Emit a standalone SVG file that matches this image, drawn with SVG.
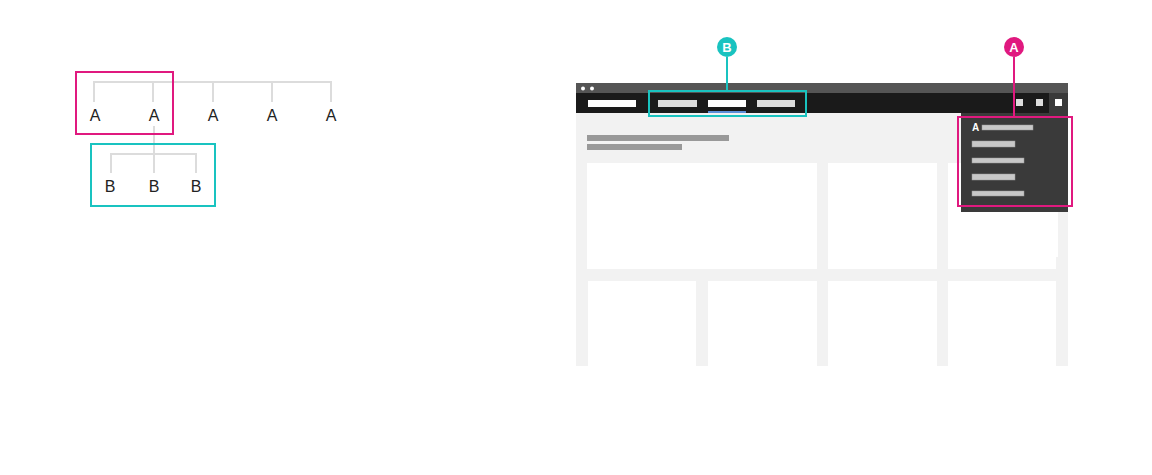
<svg xmlns="http://www.w3.org/2000/svg" width="1152" height="475" viewBox="0 0 1152 475">
<style>
.tl{stroke:#dcdcdc;stroke-width:2;fill:none}
.lt{font-family:"Liberation Sans",Arial,sans-serif;font-size:16px;fill:#222;text-anchor:middle}
.card{fill:#fff}
.nav{fill:#dcdcdc}
.mi{fill:#c8c8c8;stroke:#9a9a9a;stroke-width:0.5}
.pink{stroke:#e0197f;fill:none;stroke-width:2}
.teal{stroke:#19c3c0;fill:none;stroke-width:2}
</style>
<rect width="1152" height="475" fill="#fff"/>
<g id="connectors">
<path class="tl" d="M94 102V82H331V102M153 82V102M213 82V102M272 82V102"/>
<path class="tl" d="M154 126V154M111 173V154H196V173M154 154V173"/>
</g>
<g id="treeA">
<text class="lt" x="95" y="121">A</text>
<text class="lt" x="154" y="121">A</text>
<text class="lt" x="213" y="121">A</text>
<text class="lt" x="272" y="121">A</text>
<text class="lt" x="331" y="121">A</text>
</g>
<g id="treeB">
<text class="lt" x="110" y="192">B</text>
<text class="lt" x="154" y="192">B</text>
<text class="lt" x="196" y="192">B</text>
</g>
<rect id="boxA" class="pink" x="76" y="72" width="97" height="62"/>
<rect id="boxB" class="teal" x="91" y="144" width="124" height="62"/>
<g id="browser">
<rect x="576" y="83" width="492" height="10" fill="#555"/>
<circle cx="583" cy="88.5" r="2" fill="#fff"/>
<circle cx="592" cy="88.5" r="2" fill="#fff"/>
<rect x="576" y="93" width="492" height="20" fill="#1a1a1a"/>
<rect x="576" y="113" width="492" height="253" fill="#f2f2f2"/>
<rect x="588" y="100" width="48" height="7" fill="#fff"/>
<rect class="nav" x="658" y="100" width="39" height="7"/>
<rect x="708" y="100" width="38" height="7" fill="#fff"/>
<rect x="708" y="111" width="38" height="2" fill="#5b8fd9"/>
<rect class="nav" x="757" y="100" width="38" height="7"/>
<rect x="1016" y="99" width="7" height="7" fill="#ddd"/>
<rect x="1036" y="99" width="7" height="7" fill="#ddd"/>
<rect x="1049" y="93" width="19" height="20" fill="#3a3a3a"/>
<rect x="1055" y="99" width="7" height="7" fill="#fff"/>
<rect x="587" y="135" width="142" height="6" fill="#999"/>
<rect x="587" y="144" width="95" height="6" fill="#999"/>
<rect class="card" x="587" y="163" width="230" height="106"/>
<rect class="card" x="828" y="163" width="109" height="106"/>
<rect class="card" x="948" y="163" width="108" height="106"/>
<rect class="card" x="1056" y="163" width="2" height="94"/>
<rect class="card" x="588" y="281" width="108" height="85"/>
<rect class="card" x="708" y="281" width="109" height="85"/>
<rect class="card" x="828" y="281" width="109" height="85"/>
<rect class="card" x="948" y="281" width="108" height="85"/>
<rect x="961" y="113" width="107" height="99" fill="#3a3a3a"/>
<text x="972" y="131" font-family="Liberation Sans,Arial,sans-serif" font-size="10" font-weight="bold" fill="#fff">A</text>
<rect class="mi" x="982" y="125" width="51" height="5"/>
<rect class="mi" x="972" y="141" width="43" height="6"/>
<rect class="mi" x="972" y="158" width="52" height="5"/>
<rect class="mi" x="972" y="174" width="43" height="6"/>
<rect class="mi" x="972" y="191" width="52" height="5"/>
</g>
<g id="calloutB">
<line class="teal" x1="727" y1="57" x2="727" y2="91"/>
<rect class="teal" x="649" y="91" width="157" height="25"/>
<circle cx="727" cy="47" r="10" fill="#19c3c0"/>
<text x="727" y="52" font-family="Liberation Sans,Arial,sans-serif" font-size="13" font-weight="bold" fill="#fff" text-anchor="middle">B</text>
</g>
<g id="calloutA">
<line class="pink" x1="1014" y1="57" x2="1014" y2="117"/>
<rect class="pink" x="958" y="117" width="114" height="89"/>
<circle cx="1014" cy="47" r="10" fill="#e0197f"/>
<text x="1014" y="52" font-family="Liberation Sans,Arial,sans-serif" font-size="13" font-weight="bold" fill="#fff" text-anchor="middle">A</text>
</g>
</svg>
